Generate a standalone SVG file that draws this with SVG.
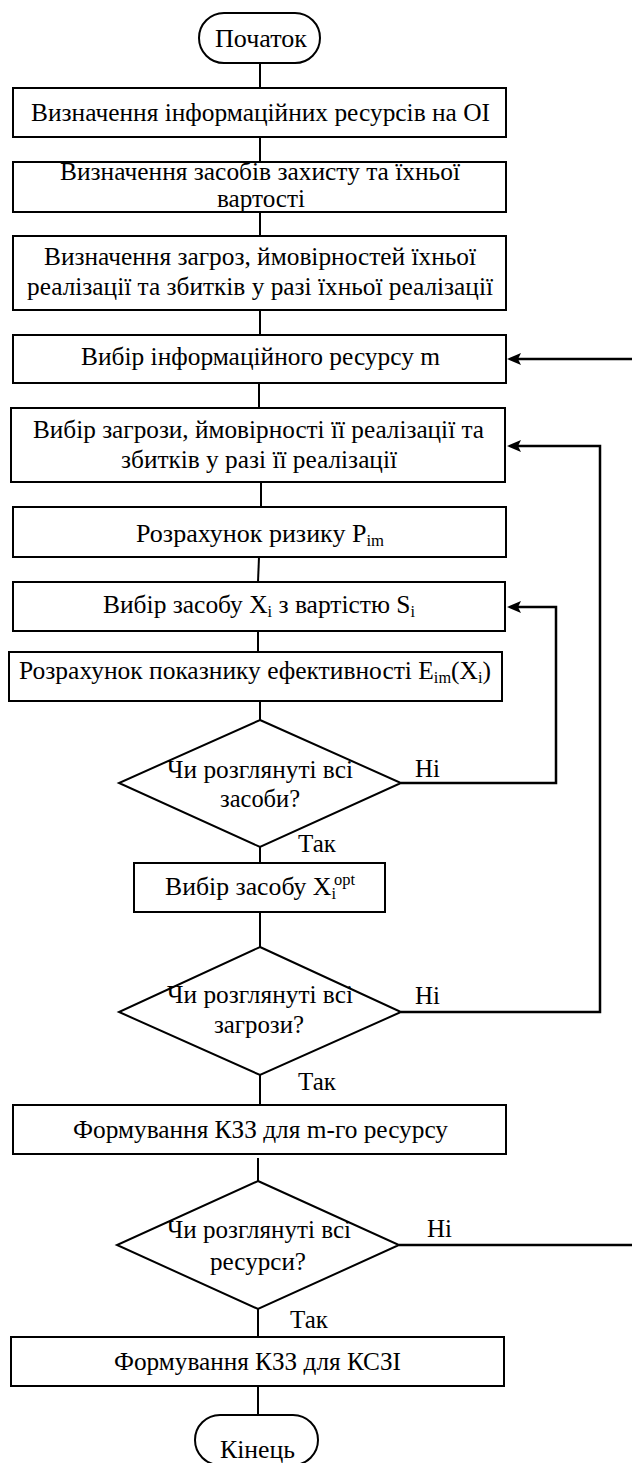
<svg xmlns="http://www.w3.org/2000/svg" width="632" height="1463" viewBox="0 0 632 1463">
<g id="connectors">
<line fill="none" stroke="#000" stroke-width="2" x1="260" y1="63" x2="260" y2="88"/>
<line fill="none" stroke="#000" stroke-width="2" x1="260" y1="137" x2="260" y2="162"/>
<line fill="none" stroke="#000" stroke-width="2" x1="260" y1="212" x2="260" y2="236"/>
<line fill="none" stroke="#000" stroke-width="2" x1="260" y1="310" x2="260" y2="335"/>
<line fill="none" stroke="#000" stroke-width="2" x1="259" y1="383" x2="259" y2="408"/>
<line fill="none" stroke="#000" stroke-width="2" x1="261" y1="482" x2="261" y2="507"/>
<line fill="none" stroke="#000" stroke-width="2" x1="259" y1="557" x2="258" y2="582"/>
<line fill="none" stroke="#000" stroke-width="2" x1="258" y1="631" x2="258" y2="652"/>
<line fill="none" stroke="#000" stroke-width="2" x1="260" y1="701" x2="260" y2="720"/>
<line fill="none" stroke="#000" stroke-width="2" x1="260" y1="847" x2="260" y2="863"/>
<line fill="none" stroke="#000" stroke-width="2" x1="260" y1="912" x2="260" y2="947"/>
<line fill="none" stroke="#000" stroke-width="2" x1="260" y1="1075" x2="260" y2="1105"/>
<line fill="none" stroke="#000" stroke-width="2" x1="258" y1="1158" x2="258" y2="1181"/>
<line fill="none" stroke="#000" stroke-width="2" x1="258" y1="1309" x2="258" y2="1337"/>
<line fill="none" stroke="#000" stroke-width="2" x1="258" y1="1386" x2="258" y2="1415"/>
<polyline fill="none" stroke="#000" stroke-width="2.5" points="401,783 556,783 556,607 518,607"/>
<polygon fill="#000" points="507,607 521,601 518,607 521,613"/>
<polyline fill="none" stroke="#000" stroke-width="2.5" points="401,1012 600,1012 600,446 518,446"/>
<polygon fill="#000" points="507,446 521,440 518,446 521,452"/>
<line fill="none" stroke="#000" stroke-width="2.5" x1="399" y1="1245" x2="632" y2="1245"/>
<line fill="none" stroke="#000" stroke-width="2.5" x1="632" y1="359" x2="518" y2="359"/>
<polygon fill="#000" points="507,359 521,353 518,359 521,365"/>
</g>
<text font-family="Liberation Serif" font-size="25" x="415" y="777">Ні</text>
<text font-family="Liberation Serif" font-size="25" x="298" y="852">Так</text>
<text font-family="Liberation Serif" font-size="25" x="415" y="1004">Ні</text>
<text font-family="Liberation Serif" font-size="25" x="298" y="1090">Так</text>
<text font-family="Liberation Serif" font-size="25" x="427" y="1237">Ні</text>
<text font-family="Liberation Serif" font-size="25" x="290" y="1328">Так</text>
<g id="start">
<rect fill="#fff" stroke="#000" stroke-width="2" x="199" y="13" width="121" height="50" rx="25" ry="25"/>
<text font-family="Liberation Serif" font-size="25" text-anchor="middle" x="261" y="47" textLength="92" lengthAdjust="spacingAndGlyphs">Початок</text>
</g>
<g id="n1">
<rect fill="#fff" stroke="#000" stroke-width="2" x="13" y="88" width="493" height="49"/>
<text font-family="Liberation Serif" font-size="25" text-anchor="middle" x="260.5" y="121" textLength="459" lengthAdjust="spacingAndGlyphs">Визначення інформаційних ресурсів на ОІ</text>
</g>
<g id="n2">
<rect fill="#fff" stroke="#000" stroke-width="2" x="13" y="162" width="493" height="50"/>
<text font-family="Liberation Serif" font-size="25" text-anchor="middle" x="260" y="180" textLength="400" lengthAdjust="spacingAndGlyphs">Визначення засобів захисту та їхньої</text>
<text font-family="Liberation Serif" font-size="25" text-anchor="middle" x="261" y="207" textLength="88" lengthAdjust="spacingAndGlyphs">вартості</text>
</g>
<g id="n3">
<rect fill="#fff" stroke="#000" stroke-width="2" x="13" y="236" width="493" height="74"/>
<text font-family="Liberation Serif" font-size="25" text-anchor="middle" x="260" y="265" textLength="432" lengthAdjust="spacingAndGlyphs">Визначення загроз, ймовірностей їхньої</text>
<text font-family="Liberation Serif" font-size="25" text-anchor="middle" x="260" y="295" textLength="466" lengthAdjust="spacingAndGlyphs">реалізації та збитків у разі їхньої реалізації</text>
</g>
<g id="n4">
<rect fill="#fff" stroke="#000" stroke-width="2" x="13" y="335" width="493" height="48"/>
<text font-family="Liberation Serif" font-size="25" text-anchor="middle" x="260.5" y="365" textLength="359" lengthAdjust="spacingAndGlyphs">Вибір інформаційного ресурсу m</text>
</g>
<g id="n5">
<rect fill="#fff" stroke="#000" stroke-width="2" x="11" y="408" width="494" height="74"/>
<text font-family="Liberation Serif" font-size="25" text-anchor="middle" x="258.5" y="438" textLength="451" lengthAdjust="spacingAndGlyphs">Вибір загрози, ймовірності її реалізації та</text>
<text font-family="Liberation Serif" font-size="25" text-anchor="middle" x="259" y="468" textLength="276" lengthAdjust="spacingAndGlyphs">збитків у разі її реалізації</text>
</g>
<g id="n6">
<rect fill="#fff" stroke="#000" stroke-width="2" x="13" y="507" width="493" height="50"/>
<text font-family="Liberation Serif" font-size="25" text-anchor="middle" x="260" y="542" textLength="248" lengthAdjust="spacingAndGlyphs">Розрахунок ризику P<tspan font-size="16" dy="4">im</tspan></text>
</g>
<g id="n7">
<rect fill="#fff" stroke="#000" stroke-width="2" x="13" y="582" width="492" height="49"/>
<text font-family="Liberation Serif" font-size="25" text-anchor="middle" x="259" y="613" textLength="312" lengthAdjust="spacingAndGlyphs">Вибір засобу X<tspan font-size="16" dy="4">i</tspan><tspan dy="-4"> з вартістю S</tspan><tspan font-size="16" dy="4">i</tspan></text>
</g>
<g id="n8">
<rect fill="#fff" stroke="#000" stroke-width="2" x="9" y="652" width="493" height="49"/>
<text font-family="Liberation Serif" font-size="25" text-anchor="middle" x="255" y="679" textLength="472" lengthAdjust="spacingAndGlyphs">Розрахунок показнику ефективності E<tspan font-size="16" dy="4">im</tspan><tspan dy="-4">(X</tspan><tspan font-size="16" dy="4">i</tspan><tspan dy="-4">)</tspan></text>
</g>
<g id="d1">
<polygon fill="#fff" stroke="#000" stroke-width="2" points="260,720 401,783 260,847 119,783"/>
<text font-family="Liberation Serif" font-size="25" text-anchor="middle" x="260" y="778" textLength="186" lengthAdjust="spacingAndGlyphs">Чи розглянуті всі</text>
<text font-family="Liberation Serif" font-size="25" text-anchor="middle" x="260" y="807" textLength="80" lengthAdjust="spacingAndGlyphs">засоби?</text>
</g>
<g id="n9">
<rect fill="#fff" stroke="#000" stroke-width="2" x="134" y="863" width="251" height="49"/>
<text font-family="Liberation Serif" font-size="25" text-anchor="middle" x="260" y="895" textLength="190" lengthAdjust="spacingAndGlyphs">Вибір засобу X<tspan font-size="16" dy="4">i</tspan><tspan font-size="16" dx="-2" dy="-14">opt</tspan></text>
</g>
<g id="d2">
<polygon fill="#fff" stroke="#000" stroke-width="2" points="260,947 401,1012 260,1075 119,1012"/>
<text font-family="Liberation Serif" font-size="25" text-anchor="middle" x="260" y="1003" textLength="186" lengthAdjust="spacingAndGlyphs">Чи розглянуті всі</text>
<text font-family="Liberation Serif" font-size="25" text-anchor="middle" x="259" y="1033" textLength="90" lengthAdjust="spacingAndGlyphs">загрози?</text>
</g>
<g id="n10">
<rect fill="#fff" stroke="#000" stroke-width="2" x="13" y="1105" width="493" height="49"/>
<text font-family="Liberation Serif" font-size="25" text-anchor="middle" x="260.5" y="1138" textLength="375" lengthAdjust="spacingAndGlyphs">Формування КЗЗ для m-го ресурсу</text>
</g>
<g id="d3">
<polygon fill="#fff" stroke="#000" stroke-width="2" points="258,1181 399,1245 258,1309 117,1245"/>
<text font-family="Liberation Serif" font-size="25" text-anchor="middle" x="259" y="1238" textLength="184" lengthAdjust="spacingAndGlyphs">Чи розглянуті всі</text>
<text font-family="Liberation Serif" font-size="25" text-anchor="middle" x="258" y="1270" textLength="96" lengthAdjust="spacingAndGlyphs">ресурси?</text>
</g>
<g id="n11">
<rect fill="#fff" stroke="#000" stroke-width="2" x="11" y="1337" width="493" height="49"/>
<text font-family="Liberation Serif" font-size="25" text-anchor="middle" x="257.5" y="1370" textLength="287" lengthAdjust="spacingAndGlyphs">Формування КЗЗ для КСЗІ</text>
</g>
<g id="end">
<rect fill="#fff" stroke="#000" stroke-width="2" x="195" y="1415" width="123" height="50" rx="25" ry="25"/>
<text font-family="Liberation Serif" font-size="25" text-anchor="middle" x="257.5" y="1458" textLength="75" lengthAdjust="spacingAndGlyphs">Кінець</text>
</g>
</svg>
